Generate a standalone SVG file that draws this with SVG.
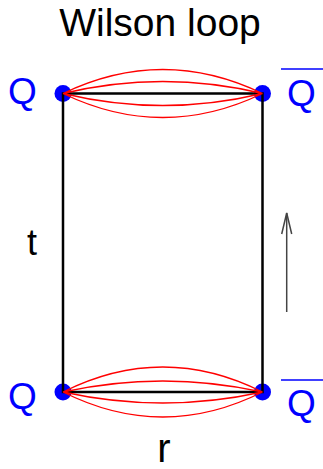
<svg xmlns="http://www.w3.org/2000/svg" width="323" height="469" viewBox="0 0 323 469">
<style>
.lbl{font-family:"Liberation Sans",Arial,sans-serif;}
.q{fill:#0000ff;font-size:37px;}
.blk{fill:#000;}
.dot{fill:#0000ff;}
.edge{stroke:#000;stroke-width:2.5;fill:none;}
.flux{stroke:#ff0000;stroke-width:1.3;fill:none;}
.bar{stroke:#0000ff;stroke-width:1.5;}
</style>
<rect width="323" height="469" fill="#fff"/>
<text class="lbl blk" x="160" y="35.5" font-size="39" text-anchor="middle">Wilson loop</text>
<g id="q-top-left">
<circle class="dot" cx="63" cy="93.5" r="8.5"/>
<text class="lbl q" x="22.5" y="103.5" text-anchor="middle">Q</text>
</g>
<g id="qbar-top-right">
<circle class="dot" cx="262.5" cy="93.5" r="8.5"/>
<line class="bar" x1="281" y1="69" x2="323" y2="69"/>
<text class="lbl q" x="301.5" y="105.5" text-anchor="middle">Q</text>
</g>
<g id="q-bottom-left">
<circle class="dot" cx="63" cy="392" r="8.5"/>
<text class="lbl q" x="22.5" y="408.5" text-anchor="middle">Q</text>
</g>
<g id="qbar-bottom-right">
<circle class="dot" cx="262.5" cy="392" r="8.5"/>
<line class="bar" x1="281" y1="380" x2="323" y2="380"/>
<text class="lbl q" x="301.5" y="415.5" text-anchor="middle">Q</text>
</g>
<g id="connectors">
<path class="edge" d="M63,93.5 H262.5 V392 H63 Z"/>
<path class="flux" d="M63,93.5 Q162.75,45.5 262.5,93.5 M63,93.5 Q162.75,69.5 262.5,93.5 M63,93.5 Q162.75,117.5 262.5,93.5 M63,93.5 Q162.75,141.5 262.5,93.5"/>
<path class="flux" d="M63,392 Q162.75,342 262.5,392 M63,392 Q162.75,370 262.5,392 M63,392 Q162.75,414 262.5,392 M63,392 Q162.75,442 262.5,392"/>
<g stroke="#444" stroke-width="1.5" fill="none">
<line x1="286.7" y1="213" x2="286.7" y2="312"/>
<polyline points="281.7,234 286.7,213 291.7,234"/>
</g>
</g>
<text class="lbl blk" x="32" y="255" font-size="36" text-anchor="middle">t</text>
<text class="lbl blk" x="164" y="462" font-size="40" text-anchor="middle">r</text>
</svg>
